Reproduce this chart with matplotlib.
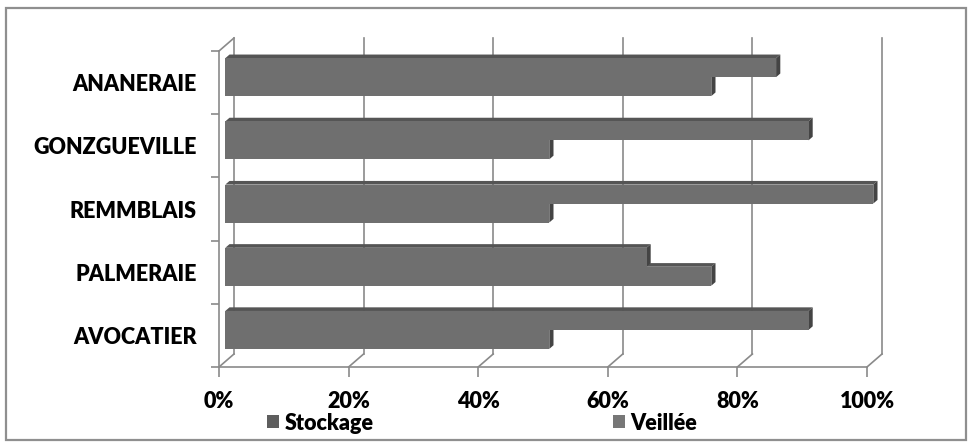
import matplotlib
matplotlib.use("Agg")
import matplotlib.pyplot as plt
from matplotlib.patches import Polygon, Rectangle
import numpy as np

# ---- data (bottom to top, as in the chart) ----
categories = ["AVOCATIER", "PALMERAIE", "REMMBLAIS", "GONZGUEVILLE", "ANANERAIE"]
stockage = [50, 75, 50, 50, 75]
veillee = [90, 65, 100, 90, 85]
series_names = ["Stockage", "Veillée"]
xticks = [0, 20, 40, 60, 80, 100]
xtick_labels = ["0%", "20%", "40%", "60%", "80%", "100%"]

plt.rcParams["font.family"] = ["Lato", "DejaVu Sans"]
FS = 15.5
WEIGHT = "heavy"

W, H = 973, 446
fig = plt.figure(figsize=(W / 100, H / 100), dpi=100)
fig.patch.set_facecolor("white")

# outer frame
fig.patches.append(Rectangle((6 / W, 1 - 440 / H), 960 / W, 432 / H,
                             transform=fig.transFigure, fill=False,
                             edgecolor="#8f8f8f", lw=1.6))

# front plane of the plot
x0, x1, ytop, ybot = 219, 867, 51, 367
ax = fig.add_axes([x0 / W, 1 - ybot / H, (x1 - x0) / W, (ybot - ytop) / H])
ax.set_xlim(0, 100)
ax.set_ylim(-0.5, len(categories) - 0.5)
ax.set_facecolor("none")

fig.canvas.draw()

def px2data(dxp, dyp):
    inv = ax.transData.inverted()
    o = ax.transData.transform((0, 0))
    p = inv.transform((o[0] + dxp, o[1] + dyp))
    return p[0], p[1]

DX, DY = px2data(15, 13)          # full floor/wall depth
BX, BY = 0.42 * DX, 0.42 * DY     # bar front-face offset
TX, TY = 0.28 * DX, 0.28 * DY     # bar thickness (depth)

grid_c = "#8a8a8a"
lw = 1.2
yb, yt = -0.5, len(categories) - 0.5

# back wall gridlines and floor diagonals
for v in xticks:
    ax.plot([v, v + DX], [yb, yb + DY], color=grid_c, lw=lw, clip_on=False, zorder=1)
    ax.plot([v + DX, v + DX], [yb + DY, yt + DY], color=grid_c, lw=lw, clip_on=False, zorder=1)
ax.plot([0, DX], [yt, yt + DY], color=grid_c, lw=lw, clip_on=False, zorder=1)

# bars
h = 0.3
front_c = "#6f6f6f"
top_c = "#555555"
side_c = "#444444"

def draw_bar(y0, val, z):
    ax.barh(y0 + BY, val, height=h, left=BX, align="edge",
            color=front_c, edgecolor="none", zorder=z + 0.2, clip_on=False)
    l, r = BX, BX + val
    b, t = y0 + BY, y0 + BY + h
    ax.add_patch(Polygon([(l, t), (r, t), (r + TX, t + TY), (l + TX, t + TY)],
                         closed=True, facecolor=top_c, edgecolor="none",
                         zorder=z, clip_on=False))
    ax.add_patch(Polygon([(r, b), (r, t), (r + TX, t + TY), (r + TX, b + TY)],
                         closed=True, facecolor=side_c, edgecolor="none",
                         zorder=z + 0.1, clip_on=False))

for i in range(len(categories)):
    draw_bar(i - h, stockage[i], 2 + i)
    draw_bar(i, veillee[i], 2.5 + i)

# spines / axes
for s in ["top", "right"]:
    ax.spines[s].set_visible(False)
for s in ["left", "bottom"]:
    ax.spines[s].set_color(grid_c)
    ax.spines[s].set_linewidth(lw)

ax.set_xticks(xticks)
ax.set_xticklabels(xtick_labels, fontsize=FS, fontweight=WEIGHT)
ax.tick_params(axis="x", direction="out", length=7, color=grid_c, width=lw, pad=10.5)

ax.set_yticks(range(len(categories)))
ax.set_yticklabels(categories, fontsize=FS, fontweight=WEIGHT)
ax.tick_params(axis="y", length=0, pad=16)
ax.set_yticks(np.arange(-0.5, len(categories), 1.0), minor=True)
ax.tick_params(axis="y", which="minor", direction="out", length=6, color=grid_c, width=lw)

# legend
h1 = Rectangle((0, 0), 1, 1, facecolor="#5e5e5e", edgecolor="none")
h2 = Rectangle((0, 0), 1, 1, facecolor="#777777", edgecolor="none")
fig.legend([h1, h2], series_names, loc="center left",
           bbox_to_anchor=(267 / W, 1 - 423 / H), ncol=2, frameon=False,
           prop={"size": FS, "weight": WEIGHT}, handlelength=0.55,
           handleheight=0.55, handletextpad=0.25, columnspacing=11.15,
           borderpad=0, borderaxespad=0)

fig.savefig("out.png", dpi=100, facecolor="white")
